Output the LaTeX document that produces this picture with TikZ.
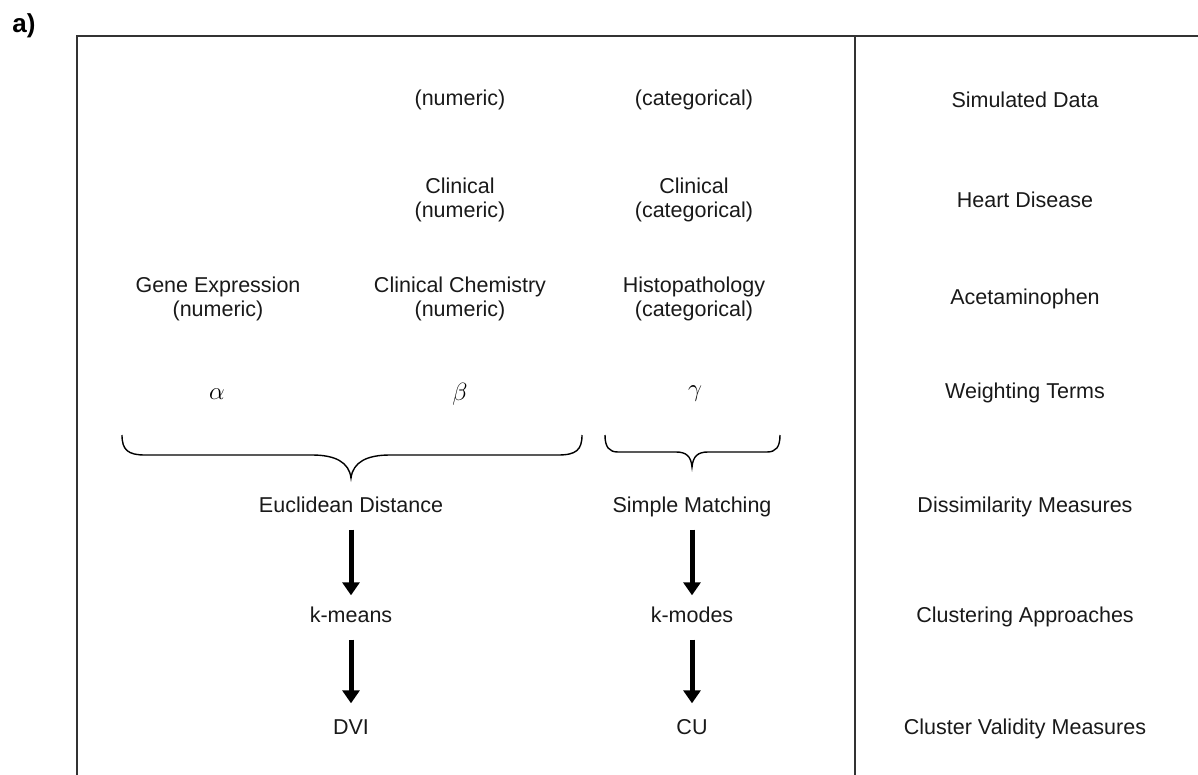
\documentclass[tikz,border=0pt]{standalone}
\usepackage{fontspec}
\setmainfont{Liberation Sans}
\usetikzlibrary{arrows.meta}
\begin{document}
\begin{tikzpicture}[x=1pt,y=-1pt,
  lbl/.style={font=\fontsize{21.5}{24}\selectfont, text=black!90, align=center, inner sep=0pt},
  greek/.style={font=\fontsize{27}{28}\selectfont, inner sep=0pt},
  frame/.style={line width=1.6pt, draw=black!80},
  bracepath/.style={line width=1.4pt, draw=black},
  bigarrow/.style={line width=5pt, -{Triangle[width=17pt,length=13pt]}}
]
\useasboundingbox (0,0) rectangle (1198,775);
% frame
\draw[frame] (77,775) -- (77,36) -- (1198,36);
\draw[frame] (855,36) -- (855,775);
% label
\node[font=\fontsize{26}{28}\selectfont\bfseries, inner sep=0pt] (lab) at (24,26) {a)};
% row 1
\node[lbl] (n1) at (460,100) {(numeric)};
\node[lbl] (c1) at (694,100) {(categorical)};
\node[lbl] (r1) at (1025,100) {Simulated Data};
% row 2
\node[lbl] (n2) at (460,200) {Clinical\\(numeric)};
\node[lbl] (c2) at (694,200) {Clinical\\(categorical)};
\node[lbl] (r2) at (1025,200) {Heart Disease};
% row 3
\node[lbl] (g3) at (218,299) {Gene Expression\\(numeric)};
\node[lbl] (n3) at (460,299) {Clinical Chemistry\\(numeric)};
\node[lbl] (c3) at (694,299) {Histopathology\\(categorical)};
\node[lbl] (r3) at (1025,299) {Acetaminophen};
% row 4
\node[greek] (al) at (217,394) {$\alpha$};
\node[greek] (be) at (460,394) {$\beta$};
\node[greek] (ga) at (695,394) {$\gamma$};
\node[lbl] (r4) at (1025,393) {Weighting Terms};
% braces
\draw[bracepath] (122,435) .. controls (122,450) and (128,455) .. (145,455) -- (312,455)
  .. controls (335,455) and (349,462) .. (351,478)
  .. controls (353,462) and (367,455) .. (390,455) -- (558,455)
  .. controls (576,455) and (582,450) .. (582,435);
\draw[bracepath] (605,435) .. controls (605,447) and (609,452) .. (618,452) -- (676,452)
  .. controls (686,452) and (691,456) .. (692,467)
  .. controls (693,456) and (698,452) .. (708,452) -- (767,452)
  .. controls (776,452) and (780,447) .. (780,435);
% row 5
\node[lbl, text height=15pt, text depth=4pt] (eu) at (351,507) {Euclidean Distance};
\node[lbl, text height=15pt, text depth=4pt] (sm) at (692,507) {Simple Matching};
\node[lbl] (r5) at (1025,507) {Dissimilarity Measures};
% row 6
\node[lbl, text height=15pt, text depth=4pt] (km) at (351,617) {k-means};
\node[lbl, text height=15pt, text depth=4pt] (kmo) at (692,617) {k-modes};
\node[lbl] (r6) at (1025,617) {Clustering Approaches};
% row 7
\node[lbl, text height=15pt, text depth=4pt] (dvi) at (351,729) {DVI};
\node[lbl, text height=15pt, text depth=4pt] (cu) at (692,729) {CU};
\node[lbl] (r7) at (1025,729) {Cluster Validity Measures};
% arrows
\draw[bigarrow, shorten <=13pt, shorten >=12pt] (eu.south) -- (km.north);
\draw[bigarrow, shorten <=13pt, shorten >=16pt] (km.south) -- (dvi.north);
\draw[bigarrow, shorten <=13pt, shorten >=12pt] (sm.south) -- (kmo.north);
\draw[bigarrow, shorten <=13pt, shorten >=16pt] (kmo.south) -- (cu.north);
\end{tikzpicture}
\end{document}
